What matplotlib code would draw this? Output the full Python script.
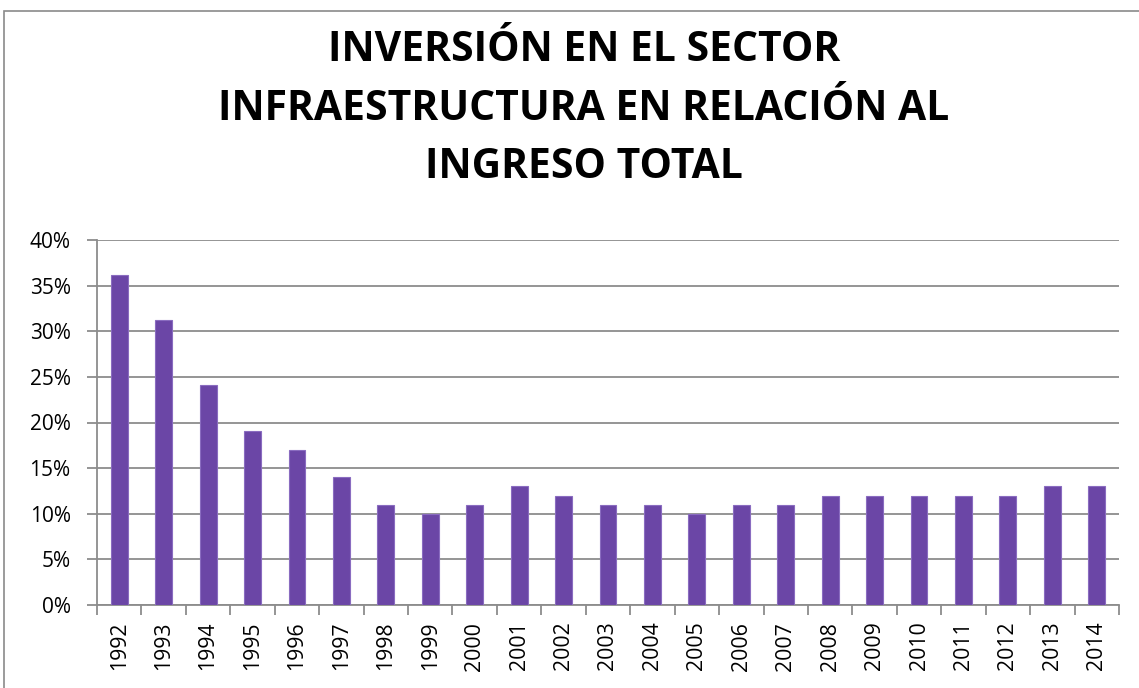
import matplotlib
matplotlib.use("Agg")
import matplotlib.pyplot as plt
from matplotlib.patches import Rectangle
from matplotlib.ticker import FuncFormatter, MultipleLocator, FixedLocator

years = [str(y) for y in range(1992, 2015)]
values = [36.2, 31.2, 24.1, 19.1, 17.0, 14.0, 11.0, 10.0, 11.0, 13.0, 12.0, 11.0,
          11.0, 10.0, 11.0, 11.0, 12.0, 12.0, 12.0, 12.0, 12.0, 13.0, 13.0]
title = "INVERSIÓN EN EL SECTOR\nINFRAESTRUCTURA EN RELACIÓN AL\nINGRESO TOTAL"

plt.rcParams['font.family'] = ['Open Sans', 'DejaVu Sans']

fig = plt.figure(figsize=(11.39, 6.88), dpi=100)
fig.patch.set_facecolor('white')
fig.patches.append(Rectangle((4/1139, -0.05), 1.2, (688-11)/688 + 0.05,
                             transform=fig.transFigure, fill=False,
                             edgecolor='#8a8a8a', linewidth=1.2))

ax = fig.add_axes([97/1139, 83/688, (1119-97)/1139, (605-240)/688])
x = list(range(len(years)))
ax.bar(x, values, width=0.38, color='#6B46A6', edgecolor='#8A6CC0', linewidth=0.8, zorder=3)

ax.set_xlim(-0.5, len(years) - 0.5)
ax.set_ylim(0, 40)
ax.yaxis.set_major_locator(MultipleLocator(5))
ax.yaxis.set_major_formatter(FuncFormatter(lambda v, p: f"{int(round(v))}%"))
ax.grid(axis='y', color='#8c8c8c', linewidth=1.3, zorder=0)
ax.set_axisbelow(True)

for s in ['top', 'right']:
    ax.spines[s].set_visible(False)
for s in ['left', 'bottom']:
    ax.spines[s].set_color('#8c8c8c')
    ax.spines[s].set_linewidth(1.3)

ax.set_xticks(x)
ax.set_xticklabels(years, rotation=90, fontsize=15.3)
ax.tick_params(axis='x', which='major', length=0, pad=12)
ax.xaxis.set_minor_locator(FixedLocator([i - 0.5 for i in range(len(years) + 1)]))
ax.tick_params(axis='x', which='minor', length=7, color='#8c8c8c', width=1.3)
ax.tick_params(axis='y', length=7, color='#8c8c8c', width=1.3, labelsize=15, pad=12)

fig.text(584/1139, 1 - 109/688, title, ha='center', va='center', fontsize=29.4,
         fontweight='bold', linespacing=1.55)

fig.savefig('out.png', dpi=100)
